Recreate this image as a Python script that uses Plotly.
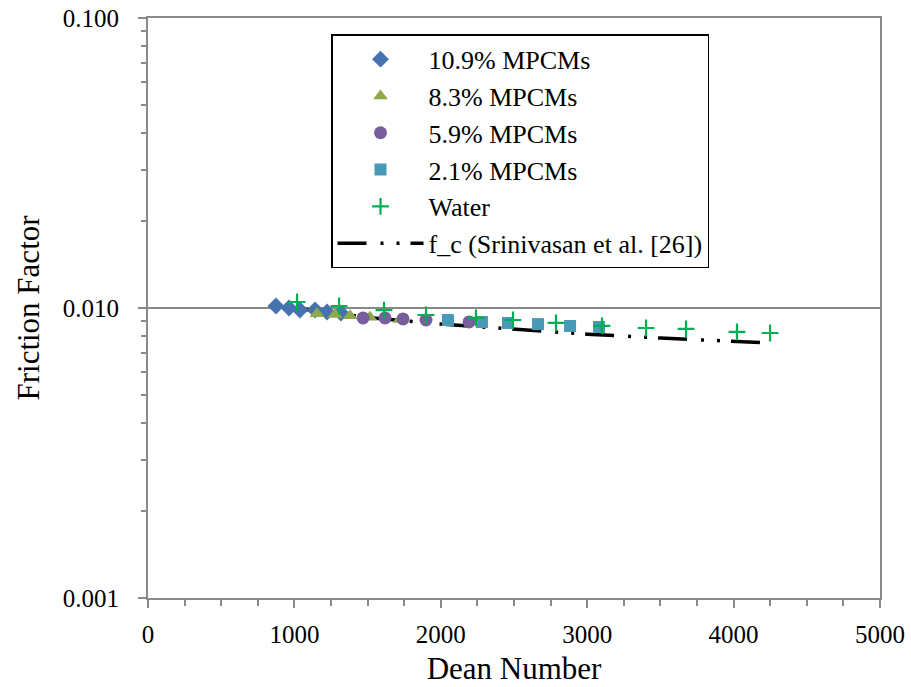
import plotly.graph_objects as go

# ---- data ----
de_109 = [874, 963, 1038, 1141, 1223, 1318]
f_109 = [0.01016, 0.0100, 0.00984, 0.00984, 0.00969, 0.00961]

de_83 = [1154, 1277, 1380, 1516, 1721]
f_83 = [0.00955, 0.00950, 0.00940, 0.00930, 0.00912]

de_59 = [1469, 1619, 1742, 1899, 2193]
f_59 = [0.00924, 0.00924, 0.00917, 0.00909, 0.00895]

de_21 = [2049, 2281, 2459, 2664, 2883, 3081]
f_21 = [0.00909, 0.00895, 0.00888, 0.00880, 0.00867, 0.00860]

de_w = [1018, 1305, 1612, 1899, 2240, 2493, 2787, 3101, 3402, 3675, 4023, 4249]
f_w = [0.01049, 0.01016, 0.00984, 0.00946, 0.00924, 0.00909, 0.00888,
       0.00867, 0.00853, 0.00847, 0.00827, 0.00820]

de_fc = [1000, 1500, 2000, 2500, 3000, 3500, 4000, 4250]
f_fc = [0.0100, 0.00928, 0.00880, 0.00845, 0.00812, 0.00788, 0.00765, 0.00757]

y_major = [0.001, 0.01, 0.1]
y_major_text = ["0.001", "0.010", "0.100"]
y_minor = [m * d for d in (0.001, 0.01) for m in range(2, 10)]
x_ticks = [0, 1000, 2000, 3000, 4000, 5000]

FONT = "Times New Roman, Liberation Serif, serif"
GRAY = "#898989"

fig = go.Figure()

fig.add_trace(go.Scatter(
    x=de_fc, y=f_fc, mode="lines", name="f_c (Srinivasan et al. [26])",
    line=dict(color="black", width=3.5, dash="29px,14px,3px,13px,3px,11px"),
    legendrank=6))
fig.add_trace(go.Scatter(
    x=de_109, y=f_109, mode="markers", name="10.9% MPCMs",
    marker=dict(symbol="diamond", size=13, color="#4673B0"),
    legendrank=1))
fig.add_trace(go.Scatter(
    x=de_83, y=f_83, mode="markers", name="8.3% MPCMs",
    marker=dict(symbol="triangle-up", size=13, color="#8DA94C"),
    legendrank=2))
fig.add_trace(go.Scatter(
    x=de_59, y=f_59, mode="markers", name="5.9% MPCMs",
    marker=dict(symbol="circle", size=13, color="#785E9C"),
    legendrank=3))
fig.add_trace(go.Scatter(
    x=de_21, y=f_21, mode="markers", name="2.1% MPCMs",
    marker=dict(symbol="square", size=12, color="#4899B3"),
    legendrank=4))
fig.add_trace(go.Scatter(
    x=de_w, y=f_w, mode="markers", name="Water", yaxis="y2",
    marker=dict(symbol="cross-thin", size=12, color="#00B050",
                line=dict(color="#00B050", width=2.2)),
    legendrank=5))

tick_font = dict(family=FONT, size=25, color="black")

fig.update_layout(
    width=911, height=687,
    margin=dict(l=148, r=31, t=18, b=89, autoexpand=False),
    paper_bgcolor="white", plot_bgcolor="white",
    font=dict(family=FONT, color="black", size=25),
    showlegend=True,
    legend=dict(
        x=0.25, y=0.972, xanchor="left", yanchor="top",
        bgcolor="white", bordercolor="black", borderwidth=1.5,
        font=dict(family=FONT, size=26, color="black"),
        itemwidth=86, tracegroupgap=0,
    ),
    xaxis=dict(
        range=[0, 5000], tickmode="array", tickvals=x_ticks,
        ticktext=[str(v) for v in x_ticks],
        automargin=False,
        showline=True, linecolor=GRAY, linewidth=2, mirror=True,
        ticks="outside", ticklen=8, tickwidth=2, tickcolor=GRAY,
        minor=dict(dtick=250, ticks="outside", ticklen=6, tickwidth=2,
                   tickcolor=GRAY, showgrid=False),
        showgrid=False, zeroline=False,
        ticklabelstandoff=5,
        title=dict(text="Dean Number", font=dict(family=FONT, size=31), standoff=10),
    ),
    yaxis=dict(
        type="log", range=[-3, -1], tickmode="array", tickvals=y_major,
        ticktext=y_major_text,
        automargin=False,
        showline=True, linecolor=GRAY, linewidth=2, mirror=True,
        ticks="outside", ticklen=8, tickwidth=2, tickcolor=GRAY,
        showgrid=True, gridcolor=GRAY, gridwidth=2, zeroline=False,
        ticklabelstandoff=14,
        title=dict(text="Friction Factor", font=dict(family=FONT, size=31), standoff=14),
    ),
    yaxis2=dict(
        type="log", range=[-3, -1], overlaying="y", side="left", anchor="x",
        automargin=False,
        tickvals=y_minor, showticklabels=False,
        ticks="outside", ticklen=6, tickwidth=2, tickcolor=GRAY,
        showgrid=False, showline=False, zeroline=False,
    ),
)
fig.update_xaxes(tickfont=tick_font)
fig.update_yaxes(tickfont=tick_font)

fig.write_html("out.html")
